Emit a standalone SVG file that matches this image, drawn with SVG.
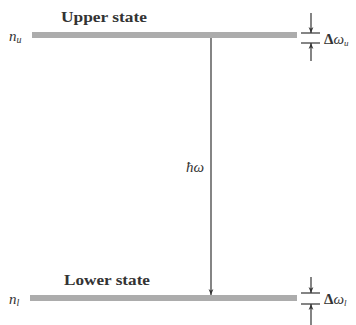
<svg xmlns="http://www.w3.org/2000/svg" width="356" height="325" viewBox="0 0 356 325">
<defs>
<marker id="ah" viewBox="0 0 10 10" refX="10" refY="5" markerWidth="6" markerHeight="6" orient="auto-start-reverse" markerUnits="userSpaceOnUse">
<path d="M0,1 L10,5 L0,9 L3,5 Z" fill="#333"/>
</marker>
</defs>
<style>
.bar{fill:#acacac;}
.ln{stroke:#333;stroke-width:1.2;fill:none;}
.lbl{font-family:"Liberation Serif",serif;font-size:15px;font-weight:bold;fill:#333;}
.it{font-family:"Liberation Serif",serif;font-size:15px;font-style:italic;fill:#333;}
.dw{font-family:"Liberation Serif",serif;font-size:15px;fill:#333;}
</style>
<rect width="356" height="325" fill="#fff"/>
<g id="upper">
<rect class="bar" x="32" y="32" width="265" height="6"/>
<text class="lbl" x="61" y="22" textLength="86" lengthAdjust="spacingAndGlyphs">Upper state</text>
<text class="it" x="9" y="41">n<tspan font-size="10" dy="2">u</tspan></text>
</g>
<g id="lower">
<rect class="bar" x="30" y="295" width="267" height="6"/>
<text class="lbl" x="64" y="285" textLength="86" lengthAdjust="spacingAndGlyphs">Lower state</text>
<text class="it" x="9" y="304">n<tspan font-size="10" dy="2">l</tspan></text>
</g>
<g id="du">
<line class="ln" x1="301" y1="33" x2="320" y2="33"/>
<line class="ln" x1="301" y1="43" x2="320" y2="43"/>
<text class="dw" x="324" y="44"><tspan font-weight="bold">Δ</tspan><tspan font-style="italic">ω</tspan><tspan font-size="9" dy="2" font-style="italic">u</tspan></text>
</g>
<g id="dl">
<line class="ln" x1="301" y1="293" x2="320" y2="293"/>
<line class="ln" x1="301" y1="304" x2="320" y2="304"/>
<text class="dw" x="324" y="304"><tspan font-weight="bold">Δ</tspan><tspan font-style="italic">ω</tspan><tspan font-size="9" dy="2" font-style="italic">l</tspan></text>
</g>
<text class="it" x="186" y="172">ħω</text>
<g id="connectors">
<line class="ln" x1="211" y1="38" x2="211" y2="295" marker-end="url(#ah)"/>
<line class="ln" x1="311" y1="13" x2="311" y2="33" marker-end="url(#ah)"/>
<line class="ln" x1="311" y1="61" x2="311" y2="43" marker-end="url(#ah)"/>
<line class="ln" x1="311" y1="277" x2="311" y2="293" marker-end="url(#ah)"/>
<line class="ln" x1="311" y1="325" x2="311" y2="304" marker-end="url(#ah)"/>
</g>
</svg>
